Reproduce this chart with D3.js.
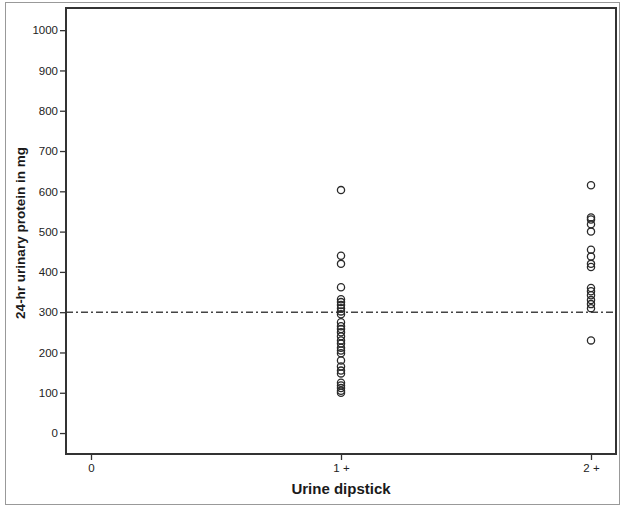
<!DOCTYPE html>
<html>
<head>
<meta charset="utf-8">
<script src="https://cdn.jsdelivr.net/npm/d3@7"></script>
<style>
  body { margin: 0; background: #fff; }
  text { font-family: "Liberation Sans", Arial, sans-serif; fill: #222; }
  .title { font-weight: bold; font-size: 15px; fill: #1a1a1a; }
</style>
</head>
<body>
<div id="chart"></div>
<script>
// ... data
const categories = ['0', '1 +', '2 +'];
const yTicks = [0, 100, 200, 300, 400, 500, 600, 700, 800, 900, 1000];
const cutoff = 300;

const onePlus = [603, 440, 420, 362, 332, 325, 318, 310, 302, 295, 275, 265, 258, 250, 240,
                 230, 222, 212, 205, 198, 180, 165, 155, 148, 125, 118, 112, 105, 100];
const twoPlus = [615, 535, 530, 518, 500, 455, 438, 420, 412, 360, 352, 342, 330, 320, 310, 230];

const points = [];
onePlus.forEach(v => points.push({cat: 1, value: v}));
twoPlus.forEach(v => points.push({cat: 2, value: v}));

const W = 621, H = 506;
const margin = {top: 8, right: 5, bottom: 52, left: 66};
const width = W - margin.left - margin.right;
const height = H - margin.top - margin.bottom;

const x = d3.scaleLinear().domain([-0.1, 2.1]).range([0, width]);
const y = d3.scaleLinear().domain([-52, 1055]).range([height, 0]);

const root = d3.select('#chart').append('svg')
    .attr('width', W)
    .attr('height', H);

// outer border of the figure
root.append('rect')
    .attr('x', 5.5).attr('y', 2.5)
    .attr('width', W - 7).attr('height', H - 4)
    .attr('fill', 'none')
    .attr('stroke', '#999')
    .attr('stroke-width', 1);

const svg = root.append('g')
    .attr('transform', 'translate(' + margin.left + ',' + margin.top + ')');

const yAxis = d3.axisLeft(y)
    .tickValues(yTicks)
    .tickSize(6)
    .tickPadding(2)
    .tickFormat(d3.format('d'));

const xAxis = d3.axisBottom(x)
    .tickValues([0, 1, 2])
    .tickSize(6)
    .tickPadding(4)
    .tickFormat(i => categories[i]);

const gy = svg.append('g').attr('class', 'y axis').call(yAxis);
const gx = svg.append('g').attr('class', 'x axis')
    .attr('transform', 'translate(0,' + height + ')')
    .call(xAxis);

[gx, gy].forEach(g => {
    g.select('.domain').remove();
    g.selectAll('line').attr('stroke', '#333').attr('stroke-width', 1.3);
    g.selectAll('text').style('font-size', '11.5px').attr('fill', '#222');
});

// ... reference line at 300 mg
svg.append('line')
    .attr('x1', 0).attr('x2', width)
    .attr('y1', y(cutoff)).attr('y2', y(cutoff))
    .attr('stroke', '#444')
    .attr('stroke-width', 1.5)
    .attr('stroke-dasharray', '7,3,2,3');

// ... points
svg.append('g').selectAll('circle')
    .data(points)
    .enter().append('circle')
    .attr('cx', d => x(d.cat))
    .attr('cy', d => y(d.value))
    .attr('r', 3.6)
    .attr('fill', 'none')
    .attr('stroke', '#2a2a2a')
    .attr('stroke-width', 1.3);

// ... plot frame
svg.append('rect')
    .attr('x', 0).attr('y', 0)
    .attr('width', width).attr('height', height)
    .attr('fill', 'none')
    .attr('stroke', '#333')
    .attr('stroke-width', 2);

// ... axis titles
svg.append('text')
    .attr('class', 'title')
    .attr('x', x(1))
    .attr('y', height + 40)
    .style('text-anchor', 'middle')
    .text('Urine dipstick');

svg.append('text')
    .attr('class', 'title')
    .style('font-size', '13.5px')
    .attr('transform', 'rotate(270,0,0)')
    .attr('x', -225)
    .attr('y', -41)
    .style('text-anchor', 'middle')
    .text('24-hr urinary protein in mg');
</script>
</body>
</html>
